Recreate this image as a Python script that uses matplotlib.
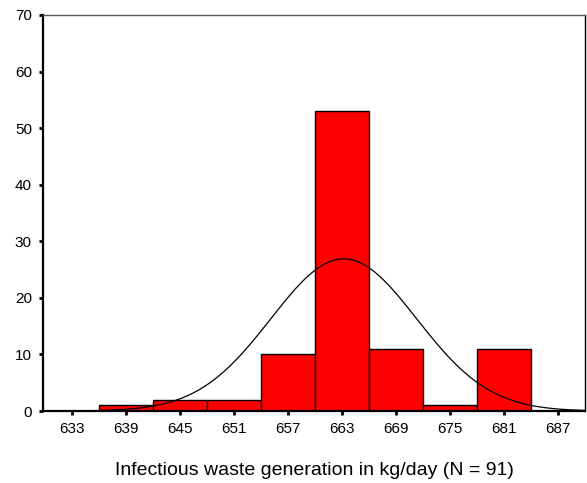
import numpy as np
import matplotlib.pyplot as plt

plt.rcParams["font.family"] = ["Liberation Sans", "DejaVu Sans"]

# histogram bins (centre values, kg/day) and counts
bin_centers = [639, 645, 651, 657, 663, 669, 675, 681]
counts = [1, 2, 2, 10, 53, 11, 1, 11]
bin_width = 6
n_total = 91

# fitted normal curve
curve_mean = 663.2
curve_sd = 8.1

x_ticks = list(range(633, 688, 6))
y_ticks = list(range(0, 71, 10))

fig = plt.figure(figsize=(5.87, 4.83), dpi=100)
ax = fig.add_axes([0.0733, 0.149, 0.9233, 0.82])

ax.bar(bin_centers, counts, width=bin_width, color="#ff0000",
       edgecolor="black", linewidth=1.0, zorder=2)

xs = np.linspace(629.8, 690, 400)
ys = n_total * bin_width * np.exp(-0.5 * ((xs - curve_mean) / curve_sd) ** 2) / (curve_sd * np.sqrt(2 * np.pi))
ax.plot(xs, ys, color="black", linewidth=0.9, zorder=3)

ax.set_xlim(629.8, 690)
ax.set_ylim(0, 70)
ax.set_xticks(x_ticks)
ax.set_yticks(y_ticks)
ax.tick_params(axis="both", direction="out", length=3, width=2, labelsize=11, pad=5)

ax.spines["left"].set_linewidth(1.6)
ax.spines["bottom"].set_linewidth(1.6)
ax.spines["top"].set_color("#555555")
ax.spines["top"].set_linewidth(1.0)
ax.spines["right"].set_linewidth(1.0)

ax.set_xlabel("Infectious waste generation in kg/day (N = 91)", fontsize=14, va="center")
ax.xaxis.set_label_coords(0.5, -0.149)

fig.savefig("out.png", dpi=100)
plt.close(fig)
